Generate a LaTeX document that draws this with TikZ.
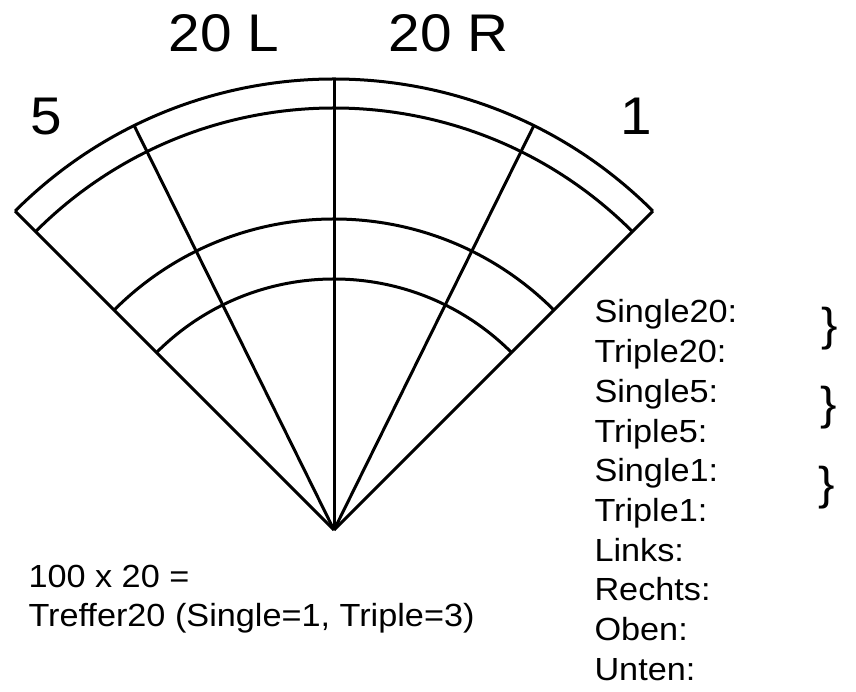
\documentclass[tikz,border=0pt]{standalone}
\usepackage{fontspec}
\setmainfont{Liberation Sans}[FakeStretch=1.07]
\begin{document}
\begin{tikzpicture}[x=1pt,y=1pt,line width=3pt,
    rowtext/.style={inner sep=0pt,anchor=base west,font=\fontsize{32}{32}\selectfont},
    bigtext/.style={inner sep=0pt,anchor=base west,font=\fontsize{53}{53}\selectfont},
    bracetext/.style={inner sep=0pt,font=\fontsize{46}{46}\selectfont}]
    \useasboundingbox (0,0) rectangle (856,692);

    % Points
    \coordinate (O) at (334,162);
    \path (O) ++(135:451) coordinate (edgeL);
    \path (O) ++(116.3:451) coordinate (segL);
    \path (O) ++(90:451) coordinate (mid);
    \path (O) ++(63.7:451) coordinate (segR);
    \path (O) ++(45:451) coordinate (edgeR);

    % Lines
    \draw (O) -- (edgeL);
    \draw (O) -- (segL);
    \draw (O) -- (mid);
    \draw (O) -- (segR);
    \draw (O) -- (edgeR);

    % Rings
    \foreach \r in {451,422,311,251}
        \draw ([shift={(O)}]45:\r) arc[start angle=45, end angle=135, radius=\r];

    % Labels
    \node[bigtext] (L20) at (167,640) {20 L};
    \node[bigtext] (R20) at (387,640) {20 R};
    \node[bigtext] (S5) at (29,557) {5};
    \node[bigtext] (S1) at (619,557) {1};

    \foreach \txt [count=\i from 0] in {Single20:,Triple20:,Single5:,Triple5:,Single1:,Triple1:,Links:,Rechts:,Oben:,Unten:}
        \node[rowtext] (row\i) at (593,{369-39.67*\i}) {\txt};

    \node[bracetext] (brace1) at (830,363) {\}};
    \node[bracetext] (brace2) at (829,284) {\}};
    \node[bracetext] (brace3) at (827,204) {\}};

    \node[rowtext] (note1) at (27,104) {100 x 20 =};
    \node[rowtext] (note2) at (27,65) {Treffer20 (Single=1, Triple=3)};
\end{tikzpicture}
\end{document}
